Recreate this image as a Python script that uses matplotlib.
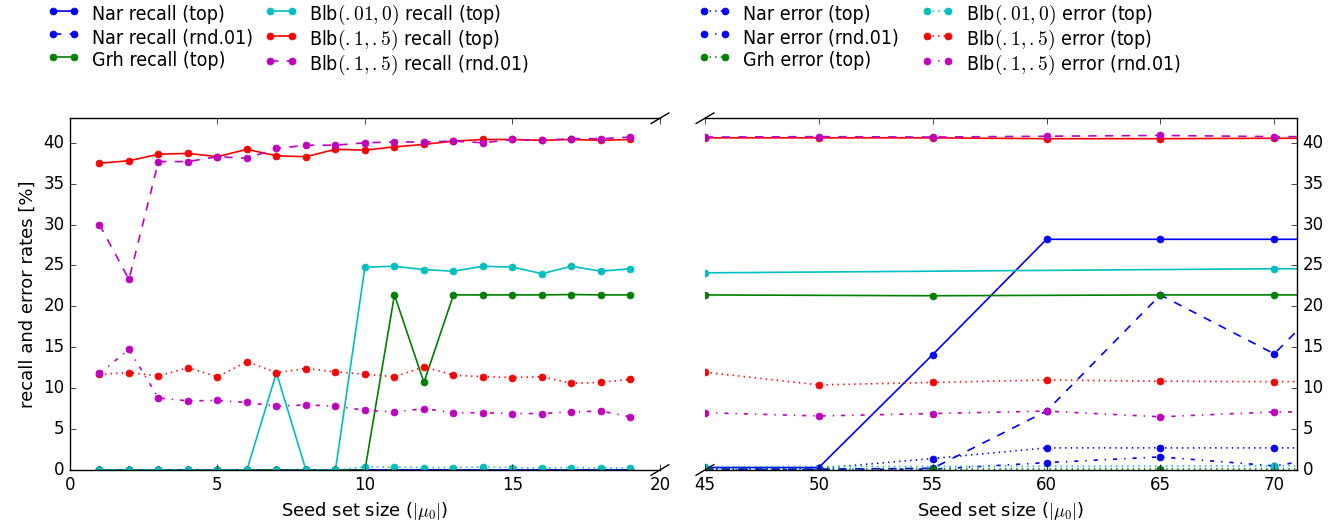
import matplotlib
matplotlib.use('Agg')
import matplotlib.pyplot as plt
from matplotlib.font_manager import FontProperties
from matplotlib.legend_handler import HandlerLine2D
from matplotlib.lines import Line2D

plt.style.use('classic')
plt.rcParams['figure.facecolor'] = 'white'
plt.rcParams['savefig.facecolor'] = 'white'
plt.rcParams['mathtext.fontset'] = 'cm'
plt.rcParams['font.family'] = ['DejaVu Sans']

# left panel: seed set sizes 1..19
x_left = [1, 2, 3, 4, 5, 6, 7, 8, 9, 10, 11, 12, 13, 14, 15, 16, 17, 18, 19]
nar_rec_top_l = [0, 0, 0, 0, 0, 0, 0, 0, 0, 0, 0, 0, 0, 0, 0, 0, 0, 0, 0]
nar_rec_rnd_l = [0, 0, 0, 0, 0, 0, 0, 0, 0, 0, 0, 0, 0, 0, 0, 0, 0, 0, 0]
grh_rec_top_l = [0, 0, 0, 0, 0, 0, 0, 0, 0, 0, 21.4, 10.7, 21.4, 21.4, 21.4, 21.4, 21.45, 21.4, 21.4]
blb1_rec_top_l = [0, 0, 0, 0, 0, 0, 11.9, 0, 0, 24.8, 24.9, 24.5, 24.3, 24.9, 24.8, 24.0, 24.9, 24.3, 24.6]
blb2_rec_top_l = [37.5, 37.8, 38.6, 38.7, 38.3, 39.2, 38.4, 38.3, 39.2, 39.1,
                  39.5, 39.8, 40.2, 40.4, 40.4, 40.3, 40.4, 40.3, 40.4]
blb2_rec_rnd_l = [30.0, 23.3, 37.7, 37.7, 38.3, 38.1, 39.3, 39.7, 39.7, 40.0,
                  40.1, 40.1, 40.2, 40.0, 40.4, 40.3, 40.5, 40.5, 40.7]
nar_err_top_l = [0, 0, 0, 0, 0, 0, 0, 0, 0, 0, 0, 0, 0, 0, 0, 0, 0, 0, 0]
nar_err_rnd_l = [0, 0, 0, 0, 0, 0, 0, 0, 0, 0, 0, 0, 0, 0, 0, 0, 0, 0, 0]
grh_err_top_l = [0, 0, 0, 0, 0, 0, 0, 0, 0, 0, 0, 0, 0, 0, 0, 0, 0, 0, 0]
blb1_err_top_l = [0, 0, 0, 0, 0, 0, 0, 0, 0, 0.4, 0.35, 0.3, 0.3, 0.35, 0.3, 0.25, 0.3, 0.25, 0.25]
blb2_err_top_l = [11.7, 11.9, 11.5, 12.5, 11.4, 13.25, 11.9, 12.4, 12.0, 11.7,
                  11.4, 12.6, 11.6, 11.4, 11.3, 11.4, 10.6, 10.7, 11.1]
blb2_err_rnd_l = [11.8, 14.75, 8.8, 8.45, 8.5, 8.25, 7.8, 7.95, 7.8, 7.3,
                  7.1, 7.5, 7.0, 7.0, 6.9, 6.9, 7.1, 7.2, 6.5]

# right panel: larger seed sets
x_right = [45, 50, 55, 60, 65, 70, 75]
x_right_cyan = [45, 70, 75]
x_right_grh = [45, 55, 65, 70, 75]
nar_rec_top_r = [0.3, 0.3, 14.1, 28.2, 28.2, 28.2, 28.2]
nar_rec_rnd_r = [0.1, 0.1, 0.2, 7.2, 21.4, 14.2, 28.2]
grh_rec_top_r = [21.4, 21.3, 21.4, 21.4, 21.4]
blb1_rec_top_r = [24.1, 24.6, 24.6]
blb2_rec_top_r = [40.6, 40.6, 40.6, 40.5, 40.5, 40.55, 40.55]
blb2_rec_rnd_r = [40.7, 40.75, 40.7, 40.8, 40.9, 40.75, 40.75]
nar_err_top_r = [0.1, 0.2, 1.4, 2.7, 2.7, 2.7, 2.7]
nar_err_rnd_r = [0.05, 0.05, 0.1, 0.9, 1.6, 0.5, 2.7]
grh_err_top_r = [0.1, 0.1, 0.1, 0.1, 0.1]
blb1_err_top_r = [0.4, 0.5, 0.5]
blb2_err_top_r = [11.95, 10.4, 10.7, 11.0, 10.85, 10.8, 10.8]
blb2_err_rnd_r = [7.0, 6.6, 6.9, 7.2, 6.5, 7.1, 7.1]

series = [
    ('Nar recall (top)', 'b', '-', x_left, nar_rec_top_l, x_right, nar_rec_top_r),
    ('Nar recall (rnd.01)', 'b', '--', x_left, nar_rec_rnd_l, x_right, nar_rec_rnd_r),
    ('Grh recall (top)', 'g', '-', x_left, grh_rec_top_l, x_right_grh, grh_rec_top_r),
    ('Blb$(.01,0)$ recall (top)', 'c', '-', x_left, blb1_rec_top_l, x_right_cyan, blb1_rec_top_r),
    ('Blb$(.1,.5)$ recall (top)', 'r', '-', x_left, blb2_rec_top_l, x_right, blb2_rec_top_r),
    ('Blb$(.1,.5)$ recall (rnd.01)', 'm', '--', x_left, blb2_rec_rnd_l, x_right, blb2_rec_rnd_r),
    ('Nar error (top)', 'b', ':', x_left, nar_err_top_l, x_right, nar_err_top_r),
    ('Nar error (rnd.01)', 'b', '-.', x_left, nar_err_rnd_l, x_right, nar_err_rnd_r),
    ('Grh error (top)', 'g', ':', x_left, grh_err_top_l, x_right_grh, grh_err_top_r),
    ('Blb$(.01,0)$ error (top)', 'c', ':', x_left, blb1_err_top_l, x_right_cyan, blb1_err_top_r),
    ('Blb$(.1,.5)$ error (top)', 'r', ':', x_left, blb2_err_top_l, x_right, blb2_err_top_r),
    ('Blb$(.1,.5)$ error (rnd.01)', 'm', '-.', x_left, blb2_err_rnd_l, x_right, blb2_err_rnd_r),
]

fig = plt.figure(figsize=(13.4, 5.25), dpi=100)
ax1 = fig.add_axes([0.0522, 0.1048, 0.4403, 0.6700])
ax2 = fig.add_axes([0.5261, 0.1048, 0.4418, 0.6700])

handles = []
for label, col, ls, xl, yl, xr, yr in series:
    style = dict(color=col, linestyle=ls, marker='o', markersize=5,
                 markeredgecolor=col, markerfacecolor=col, linewidth=1.2)
    h, = ax1.plot(xl, yl, label=label, **style)
    ax2.plot(xr, yr, **style)
    handles.append(h)

ax1.set_xlim(0, 20)
ax2.set_xlim(45, 71)
for ax in (ax1, ax2):
    ax.set_ylim(0, 43)
    ax.set_yticks([0, 5, 10, 15, 20, 25, 30, 35, 40])
    ax.set_xlabel(r'Seed set size ($|\mu_0|$)', fontsize=13)
    ax.tick_params(labelsize=12, direction='in')
ax1.set_xticks([0, 5, 10, 15, 20])
ax2.set_xticks([45, 50, 55, 60, 65, 70])

ax1.spines['right'].set_visible(False)
ax2.spines['left'].set_visible(False)
ax1.tick_params(axis='y', left=True, right=False)
ax2.tick_params(axis='y', left=False, right=True, labelleft=False, labelright=True)
ax1.set_ylabel('recall and error rates [%]', fontsize=13)

# break marks
d = .015
kw = dict(transform=ax1.transAxes, color='k', clip_on=False, linewidth=1)
ax1.plot((1 - d, 1 + d), (-d, +d), **kw)
ax1.plot((1 - d, 1 + d), (1 - d, 1 + d), **kw)
kw.update(transform=ax2.transAxes)
ax2.plot((-d, +d), (1 - d, 1 + d), **kw)
ax2.plot((-d, +d), (-d, +d), **kw)

leg_font = FontProperties(family='DejaVu Sans', stretch='condensed', size=14)
leg_kw = dict(loc='upper left', ncol=2, frameon=False, prop=leg_font, numpoints=2,
              handlelength=1.1, handleheight=1.45, handletextpad=0.9,
              labelspacing=0.0, borderpad=0, borderaxespad=0,
              handler_map={Line2D: HandlerLine2D(marker_pad=0)})
fig.legend(handles[:6], [s[0] for s in series[:6]], bbox_to_anchor=(0.0396, 0.996),
           columnspacing=0.9, **leg_kw)
fig.legend(handles[6:], [s[0] for s in series[6:]], bbox_to_anchor=(0.5254, 0.996),
           columnspacing=1.45, **leg_kw)

fig.savefig('out.png', dpi=100)
